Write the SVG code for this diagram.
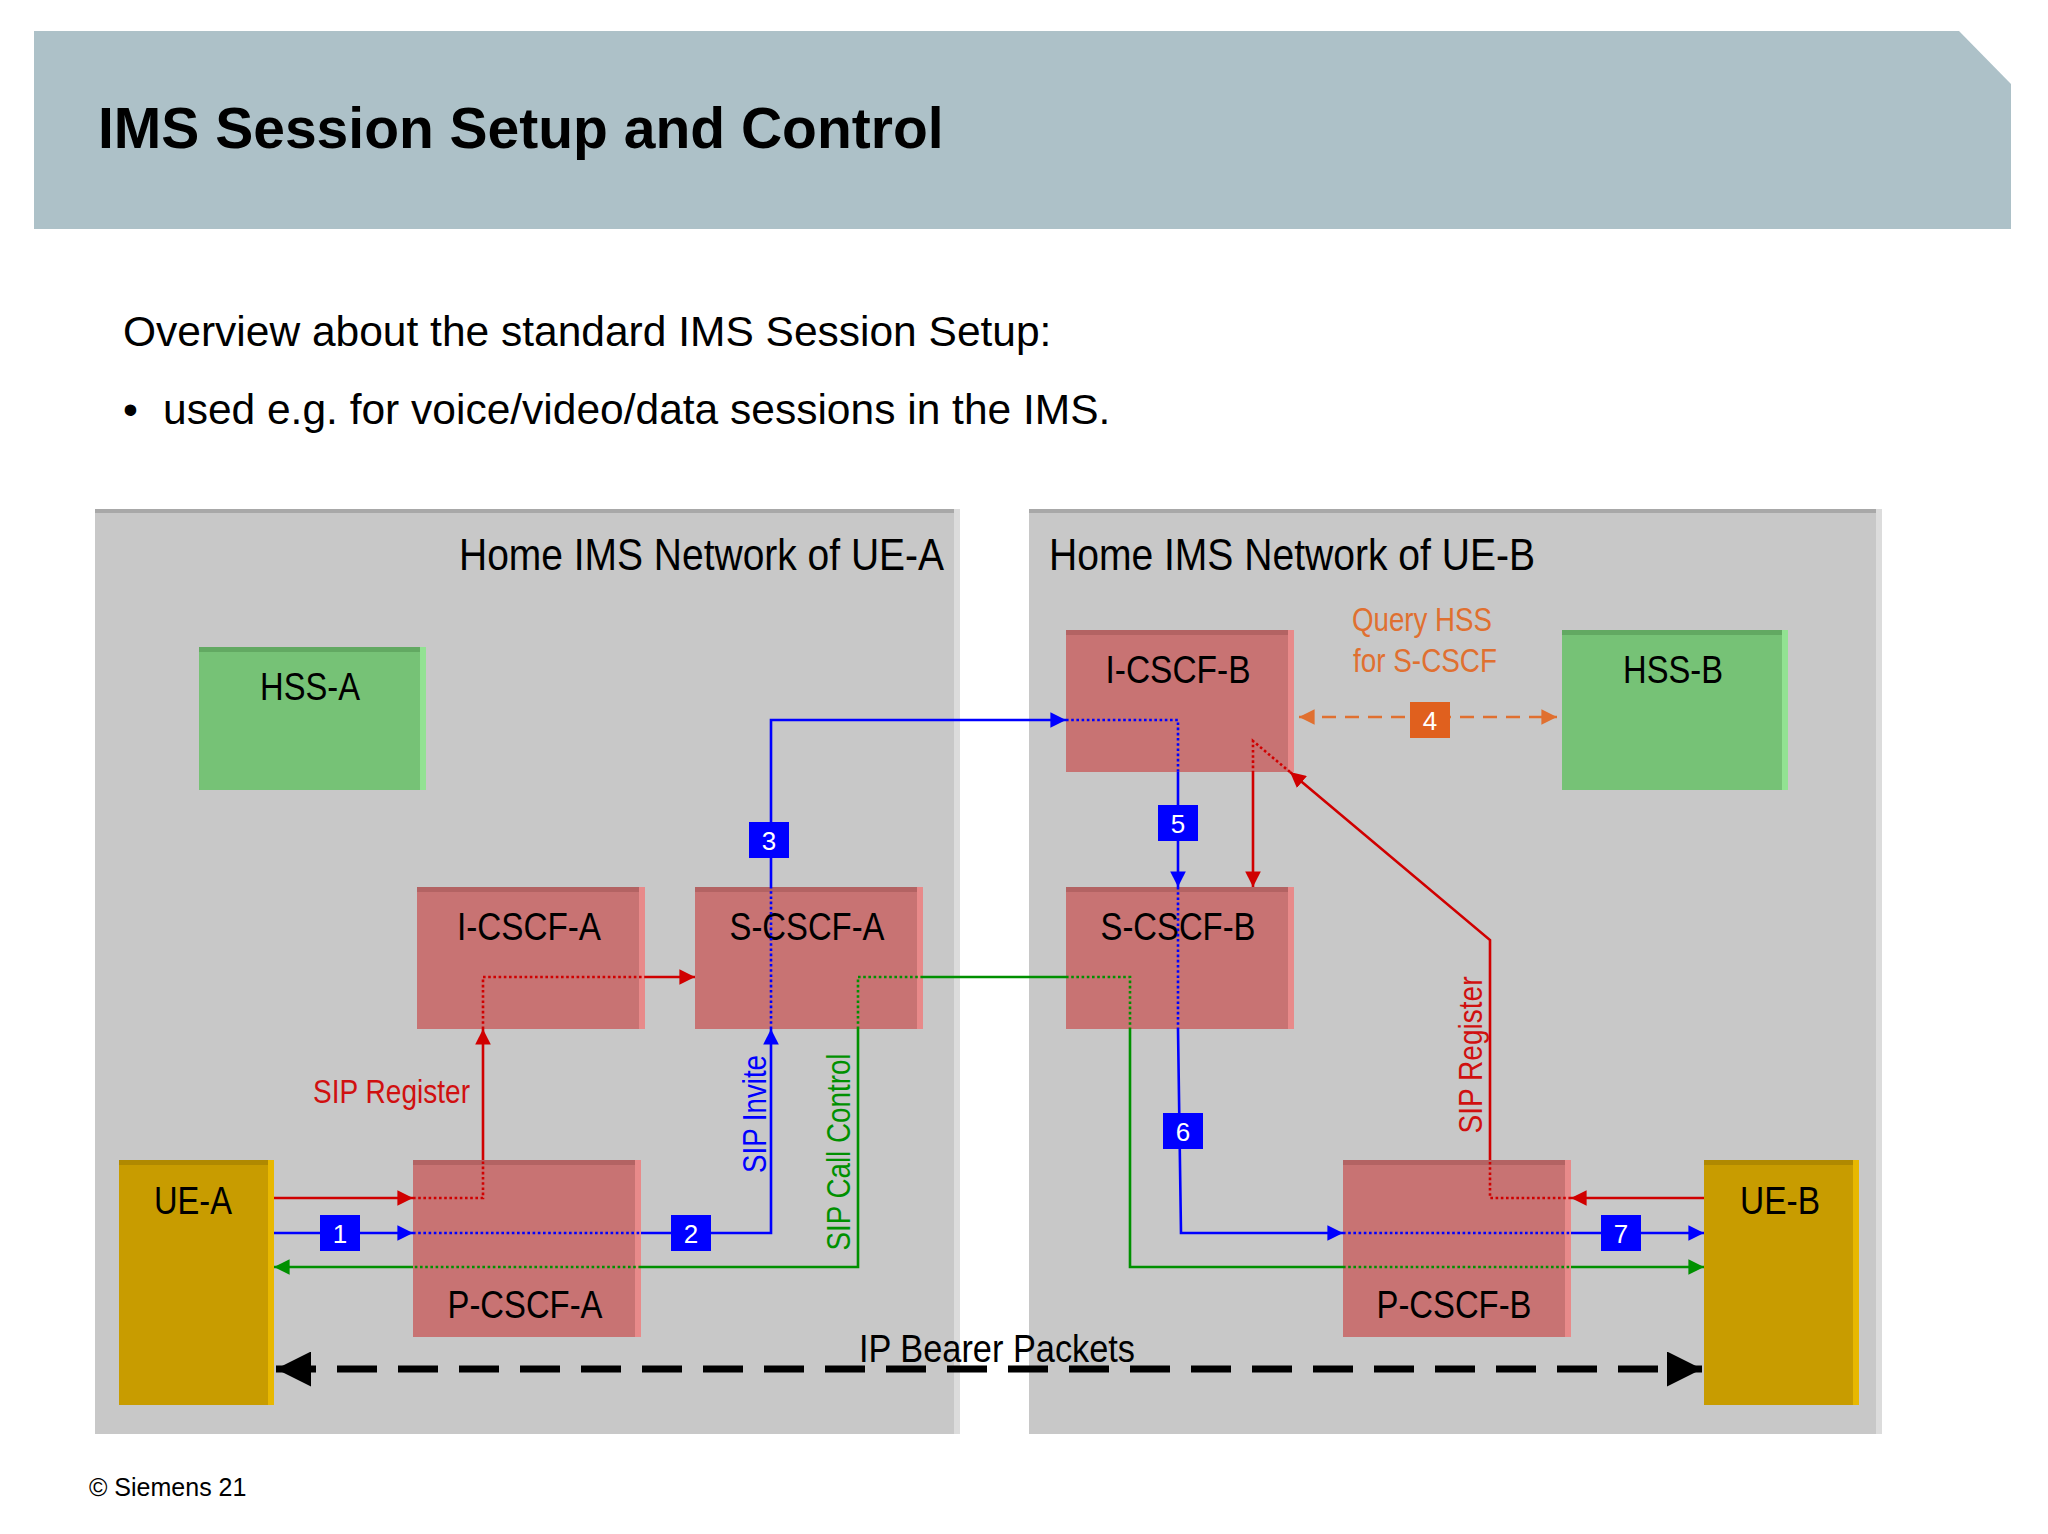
<svg xmlns="http://www.w3.org/2000/svg" width="2048" height="1534" viewBox="0 0 2048 1534">
<defs>
<style>
.t{font-family:"Liberation Sans",Arial,sans-serif}
.n{font-family:"Liberation Sans Narrow","Liberation Sans",Arial,sans-serif}
.bl{font-size:39px;fill:#000;text-anchor:middle}
.red{fill:#c87373}.redt{fill:#b36363}.redr{fill:#e88a8a}
.grn{fill:#76c276}.grnt{fill:#62a962}.grnr{fill:#92e292}
.yel{fill:#c89c00}.yelt{fill:#b08900}.yelr{fill:#e8b800}
.sr{stroke:#d00000;stroke-width:2.6;fill:none}
.sb{stroke:#0000ff;stroke-width:2.6;fill:none}
.sg{stroke:#009000;stroke-width:2.6;fill:none}
.d{stroke-dasharray:2.6 2.6}
.badge{fill:#0000ff}
.bt{font-size:26px;fill:#fff;text-anchor:middle}
</style>
<marker id="ar" viewBox="0 0 10 10" refX="10" refY="5" markerWidth="6" markerHeight="6" orient="auto-start-reverse"><path d="M0,0L10,5L0,10z" fill="#d00000"/></marker>
<marker id="ab" viewBox="0 0 10 10" refX="10" refY="5" markerWidth="6" markerHeight="6" orient="auto-start-reverse"><path d="M0,0L10,5L0,10z" fill="#0000ff"/></marker>
<marker id="ag" viewBox="0 0 10 10" refX="10" refY="5" markerWidth="6" markerHeight="6" orient="auto-start-reverse"><path d="M0,0L10,5L0,10z" fill="#009000"/></marker>
<marker id="ao" viewBox="0 0 10 10" refX="10" refY="5" markerWidth="6" markerHeight="6" orient="auto-start-reverse"><path d="M0,0L10,5L0,10z" fill="#e07030"/></marker>
<marker id="ak" viewBox="0 0 10 10" refX="10" refY="5" markerWidth="5" markerHeight="5" orient="auto-start-reverse"><path d="M0,0L10,5L0,10z" fill="#000"/></marker>
</defs>
<rect width="2048" height="1534" fill="#fff"/>
<path d="M34,31H1959L2011,84V229H34Z" fill="#adc1c8"/>
<text class="t" x="98" y="148" font-size="57" font-weight="bold" fill="#000">IMS Session Setup and Control</text>
<text class="t" x="123" y="346" font-size="42.5" fill="#000">Overview about the standard IMS Session Setup:</text>
<text class="t" x="123" y="424" font-size="42.5" fill="#000">•</text>
<text class="t" x="163" y="424" font-size="42.5" fill="#000">used e.g. for voice/video/data sessions in the IMS.</text>

<g id="panelA"><rect x="95" y="509" width="865" height="925" fill="#c8c8c8"/><rect x="95" y="509" width="865" height="4" fill="#a8a8a8"/><rect x="954" y="509" width="6" height="925" fill="#dcdcdc"/>
<text class="n" x="944" y="570" font-size="44" text-anchor="end" fill="#000" textLength="485" lengthAdjust="spacingAndGlyphs">Home IMS Network of UE-A</text></g>
<g id="panelB"><rect x="1029" y="509" width="853" height="925" fill="#c8c8c8"/><rect x="1029" y="509" width="853" height="4" fill="#a8a8a8"/><rect x="1876" y="509" width="6" height="925" fill="#dcdcdc"/>
<text class="n" x="1049" y="570" font-size="44" fill="#000" textLength="486" lengthAdjust="spacingAndGlyphs">Home IMS Network of UE-B</text></g>

<g id="hssA"><rect class="grn" x="199" y="647" width="227" height="143"/><rect class="grnt" x="199" y="647" width="227" height="5"/><rect class="grnr" x="420" y="647" width="6" height="143"/><text class="n bl" x="310" y="700" textLength="100" lengthAdjust="spacingAndGlyphs">HSS-A</text></g>
<g id="icscfA"><rect class="red" x="417" y="887" width="228" height="142"/><rect class="redt" x="417" y="887" width="228" height="5"/><rect class="redr" x="639" y="887" width="6" height="142"/><text class="n bl" x="529" y="940" textLength="144" lengthAdjust="spacingAndGlyphs">I-CSCF-A</text></g>
<g id="scscfA"><rect class="red" x="695" y="887" width="228" height="142"/><rect class="redt" x="695" y="887" width="228" height="5"/><rect class="redr" x="917" y="887" width="6" height="142"/><text class="n bl" x="807" y="940" textLength="155" lengthAdjust="spacingAndGlyphs">S-CSCF-A</text></g>
<g id="pcscfA"><rect class="red" x="413" y="1160" width="228" height="177"/><rect class="redt" x="413" y="1160" width="228" height="5"/><rect class="redr" x="635" y="1160" width="6" height="177"/><text class="n bl" x="525" y="1318" textLength="155" lengthAdjust="spacingAndGlyphs">P-CSCF-A</text></g>
<g id="ueA"><rect class="yel" x="119" y="1160" width="155" height="245"/><rect class="yelt" x="119" y="1160" width="155" height="5"/><rect class="yelr" x="268" y="1160" width="6" height="245"/><text class="n bl" x="193" y="1214" textLength="78" lengthAdjust="spacingAndGlyphs">UE-A</text></g>
<g id="icscfB"><rect class="red" x="1066" y="630" width="228" height="142"/><rect class="redt" x="1066" y="630" width="228" height="5"/><rect class="redr" x="1288" y="630" width="6" height="142"/><text class="n bl" x="1178" y="683" textLength="145" lengthAdjust="spacingAndGlyphs">I-CSCF-B</text></g>
<g id="hssB"><rect class="grn" x="1562" y="630" width="226" height="160"/><rect class="grnt" x="1562" y="630" width="226" height="5"/><rect class="grnr" x="1782" y="630" width="6" height="160"/><text class="n bl" x="1673" y="683" textLength="100" lengthAdjust="spacingAndGlyphs">HSS-B</text></g>
<g id="scscfB"><rect class="red" x="1066" y="887" width="228" height="142"/><rect class="redt" x="1066" y="887" width="228" height="5"/><rect class="redr" x="1288" y="887" width="6" height="142"/><text class="n bl" x="1178" y="940" textLength="155" lengthAdjust="spacingAndGlyphs">S-CSCF-B</text></g>
<g id="pcscfB"><rect class="red" x="1343" y="1160" width="228" height="177"/><rect class="redt" x="1343" y="1160" width="228" height="5"/><rect class="redr" x="1565" y="1160" width="6" height="177"/><text class="n bl" x="1454" y="1318" textLength="155" lengthAdjust="spacingAndGlyphs">P-CSCF-B</text></g>
<g id="ueB"><rect class="yel" x="1704" y="1160" width="155" height="245"/><rect class="yelt" x="1704" y="1160" width="155" height="5"/><rect class="yelr" x="1853" y="1160" width="6" height="245"/><text class="n bl" x="1780" y="1214" textLength="80" lengthAdjust="spacingAndGlyphs">UE-B</text></g>

<g id="connectors">
<path class="sr" d="M274,1198H413" marker-end="url(#ar)"/>
<path class="sr d" d="M413,1198H483V1160"/>
<path class="sr" d="M483,1160V1029" marker-end="url(#ar)"/>
<path class="sr d" d="M483,1029V977H645"/>
<path class="sr" d="M645,977H695" marker-end="url(#ar)"/>
<path class="sb" d="M274,1233H413" marker-end="url(#ab)"/>
<path class="sb d" d="M413,1233H641"/>
<path class="sb" d="M641,1233H771V1029" marker-end="url(#ab)"/>
<path class="sb d" d="M771,1029V887"/>
<path class="sb" d="M771,887V720H1066" marker-end="url(#ab)"/>
<path class="sb d" d="M1066,720H1178V772"/>
<path class="sb" d="M1178,772V887" marker-end="url(#ab)"/>
<path class="sb d" d="M1178,887V1029"/>
<path class="sb" d="M1178,1029L1181,1233H1343" marker-end="url(#ab)"/>
<path class="sb d" d="M1343,1233H1571"/>
<path class="sb" d="M1571,1233H1704" marker-end="url(#ab)"/>
<path class="sg d" d="M858,1029V977H923"/>
<path class="sg" d="M923,977H1066"/>
<path class="sg d" d="M1066,977H1130V1029"/>
<path class="sg" d="M1130,1029V1267H1343"/>
<path class="sg d" d="M1343,1267H1571"/>
<path class="sg" d="M1571,1267H1704" marker-end="url(#ag)"/>
<path class="sg" d="M858,1029V1267H641"/>
<path class="sg d" d="M641,1267H413"/>
<path class="sg" d="M413,1267H274" marker-end="url(#ag)"/>
<path class="sr" d="M1704,1198H1571" marker-end="url(#ar)"/>
<path class="sr d" d="M1571,1198H1490V1160"/>
<path class="sr" d="M1490,1160V940L1290,772" marker-end="url(#ar)"/>
<path class="sr d" d="M1290,772L1253,741V772"/>
<path class="sr" d="M1253,772V887" marker-end="url(#ar)"/>
<path d="M1299,717H1557" stroke="#e07030" stroke-width="2.6" stroke-dasharray="14 9" fill="none" marker-start="url(#ao)" marker-end="url(#ao)"/>
<path d="M276,1369H1702" stroke="#000" stroke-width="7" stroke-dasharray="40 21" fill="none" marker-start="url(#ak)" marker-end="url(#ak)"/>
<rect class="badge" x="320" y="1215" width="40" height="36"/><text class="n bt" x="340" y="1243">1</text>
<rect class="badge" x="671" y="1215" width="40" height="36"/><text class="n bt" x="691" y="1243">2</text>
<rect class="badge" x="749" y="822" width="40" height="36"/><text class="n bt" x="769" y="850">3</text>
<rect x="1410" y="702" width="40" height="36" fill="#e0601e"/><text class="n bt" x="1430" y="730">4</text>
<rect class="badge" x="1158" y="805" width="40" height="36"/><text class="n bt" x="1178" y="833">5</text>
<rect class="badge" x="1163" y="1113" width="40" height="36"/><text class="n bt" x="1183" y="1141">6</text>
<rect class="badge" x="1601" y="1215" width="40" height="36"/><text class="n bt" x="1621" y="1243">7</text>
<text class="n" x="470" y="1103" font-size="34" fill="#d01010" text-anchor="end" textLength="157" lengthAdjust="spacingAndGlyphs">SIP Register</text>
<text class="n" x="766" y="1114" font-size="34" fill="#0000ff" text-anchor="middle" transform="rotate(-90 766 1114)" textLength="118" lengthAdjust="spacingAndGlyphs">SIP Invite</text>
<text class="n" x="850" y="1152" font-size="34" fill="#009000" text-anchor="middle" transform="rotate(-90 850 1152)" textLength="197" lengthAdjust="spacingAndGlyphs">SIP Call Control</text>
<text class="n" x="1482" y="1055" font-size="34" fill="#d01010" text-anchor="middle" transform="rotate(-90 1482 1055)" textLength="157" lengthAdjust="spacingAndGlyphs">SIP Register</text>
<text class="n" x="1422" y="631" font-size="34" fill="#e07030" text-anchor="middle" textLength="140" lengthAdjust="spacingAndGlyphs">Query HSS</text>
<text class="n" x="1425" y="672" font-size="34" fill="#e07030" text-anchor="middle" textLength="144" lengthAdjust="spacingAndGlyphs">for S-CSCF</text>
<text class="n" x="997" y="1362" font-size="38" fill="#000" text-anchor="middle" textLength="276" lengthAdjust="spacingAndGlyphs">IP Bearer Packets</text>
</g>
<text class="t" x="89" y="1496" font-size="25" fill="#000">© Siemens 21</text>
</svg>
